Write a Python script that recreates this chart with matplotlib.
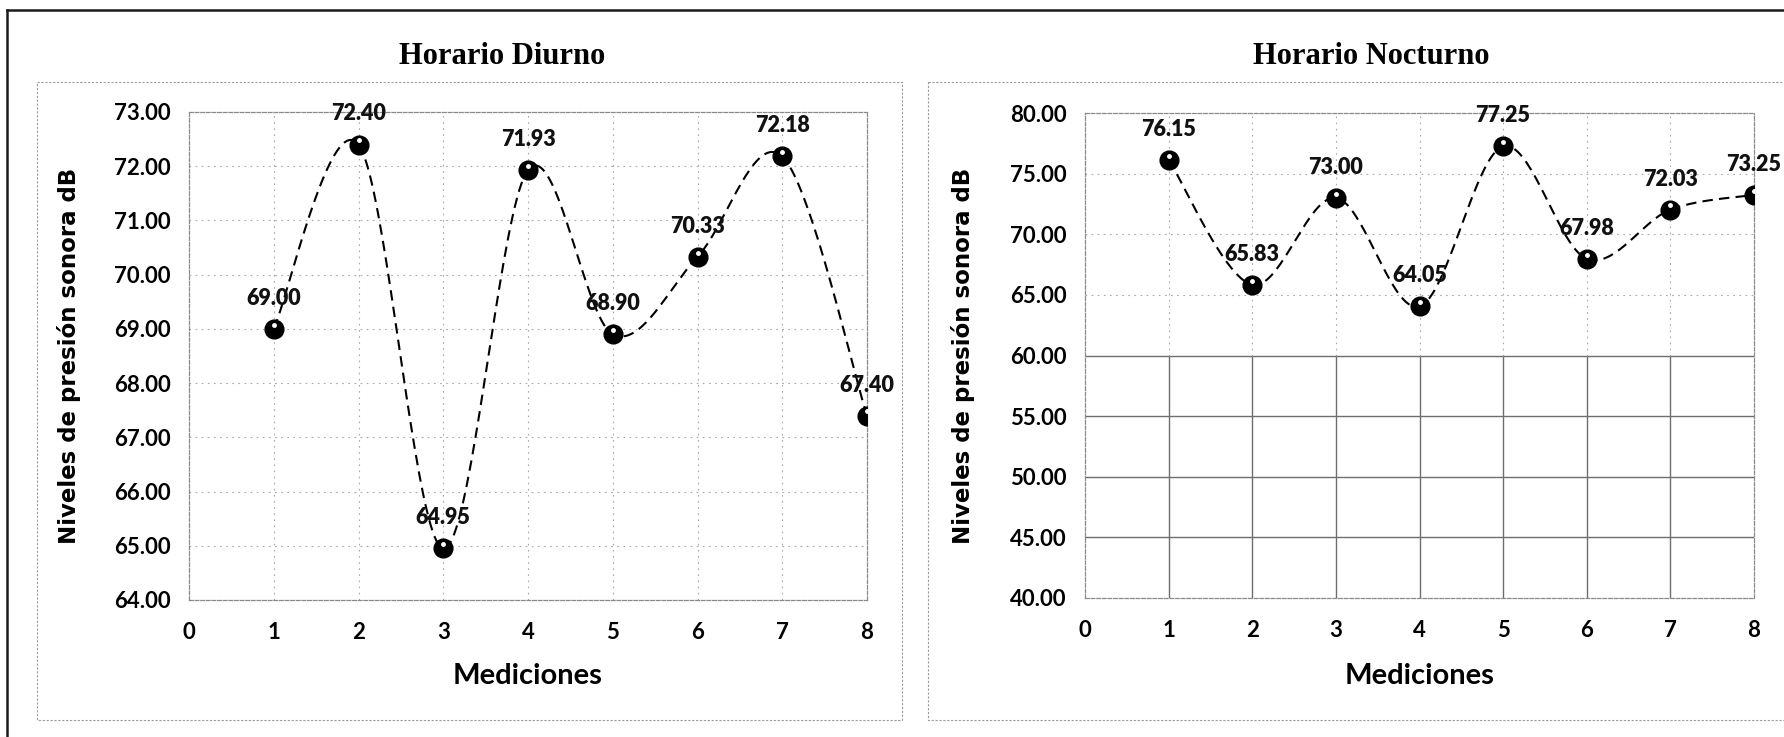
import matplotlib.pyplot as plt
import matplotlib.transforms as mtransforms
from matplotlib.lines import Line2D
import numpy as np

# Niveles de presión sonora por medición (dB)
mediciones = [1, 2, 3, 4, 5, 6, 7, 8]
diurno = [69.00, 72.40, 64.95, 71.93, 68.90, 70.33, 72.18, 67.40]
nocturno = [76.15, 65.83, 73.00, 64.05, 77.25, 67.98, 72.03, 73.25]

x_ticks = [0, 1, 2, 3, 4, 5, 6, 7, 8]
diurno_yticks = [64, 65, 66, 67, 68, 69, 70, 71, 72, 73]
nocturno_yticks = [40, 45, 50, 55, 60, 65, 70, 75, 80]

LABEL_FONT = "Lato"
TITLE_FONT = "Liberation Serif"
YLABEL_FONT = "DejaVu Sans"


def suavizar(x, y, n=40):
    # línea suavizada estilo Excel: Bezier cúbica con control Catmull-Rom
    pts = np.column_stack([x, y]).astype(float)
    pad = np.vstack([pts[0], pts, pts[-1]])
    t = np.linspace(0, 1, n)[:, None]
    out = []
    for i in range(len(pts) - 1):
        p0, p3 = pts[i], pts[i + 1]
        c1 = p0 + (p3 - pad[i]) / 6
        c2 = p3 - (pad[i + 3] - p0) / 6
        seg = ((1 - t) ** 3) * p0 + 3 * ((1 - t) ** 2) * t * c1 \
            + 3 * (1 - t) * t ** 2 * c2 + t ** 3 * p3
        out.append(seg if i == 0 else seg[1:])
    out = np.vstack(out)
    return out[:, 0], out[:, 1]


def panel(fig, ax, y, yticks, titulo, titulo_x, solido_hasta=None):
    ax.set_xlim(x_ticks[0], x_ticks[-1])
    ax.set_ylim(yticks[0], yticks[-1])
    ax.set_xticks(x_ticks)
    ax.set_yticks(yticks)
    ax.set_yticklabels([f"{v:.2f}" for v in yticks])
    ax.tick_params(axis="both", length=0, labelsize=16)
    ax.tick_params(axis="x", pad=16)
    ax.tick_params(axis="y", pad=13)
    for lab in ax.get_xticklabels() + ax.get_yticklabels():
        lab.set_fontfamily(LABEL_FONT)
        lab.set_fontweight("bold")

    for s in ax.spines.values():
        s.set_color("#8a8a8a")
        s.set_linewidth(0.9)
        s.set_linestyle((0, (3, 1.5)))

    # rejilla: punteada tenue, sólida por debajo del umbral si se indica
    punteada = dict(color="#a8a8a8", lw=0.8, linestyle=(0, (1.5, 4)), zorder=0)
    solida = dict(color="#6e6e6e", lw=1.0, linestyle="-", zorder=0)
    for v in yticks[1:-1]:
        estilo = solida if solido_hasta is not None and v <= solido_hasta else punteada
        ax.axhline(v, **estilo)
    for v in x_ticks[1:-1]:
        if solido_hasta is not None:
            ax.plot([v, v], [yticks[0], solido_hasta], **solida)
            ax.plot([v, v], [solido_hasta, yticks[-1]], **punteada)
        else:
            ax.axvline(v, **punteada)

    xs, ys = suavizar(mediciones, y)
    ax.plot(xs, ys, color="black", lw=1.5, dashes=(5, 3), zorder=3)
    ax.plot(mediciones, y, "o", color="black", markersize=13.5, zorder=4)
    brillo = ax.transData + mtransforms.ScaledTranslation(0, 3 / 72, fig.dpi_scale_trans)
    ax.plot(mediciones, y, "o", color="white", markersize=2.5, zorder=5,
            transform=brillo)

    for xi, yi in zip(mediciones, y):
        ax.annotate(f"{yi:.2f}", (xi, yi), xytext=(0, 22),
                    textcoords="offset points", ha="center", va="center",
                    fontsize=15.5, fontweight="heavy", family=LABEL_FONT,
                    color="#111111", zorder=6, annotation_clip=False)

    ax.set_xlabel("Mediciones", fontsize=21, fontweight="bold", family=LABEL_FONT)
    ax.xaxis.set_label_coords(0.5, -0.13)
    ax.set_ylabel("Niveles de presión sonora dB", fontsize=16.5,
                  fontweight="bold", family=YLABEL_FONT)
    ax.yaxis.set_label_coords(-0.16, 0.5)

    fig.text(titulo_x, 1 - 57 / 737, titulo, ha="center", va="center",
             fontsize=22, fontweight="bold", family=TITLE_FONT)


W, H = 1784, 737
fig = plt.figure(figsize=(W / 100, H / 100), dpi=100)

# marco exterior y recuadros de cada gráfico
fig.add_artist(Line2D([7 / W, 1], [1 - 10 / H] * 2, color="#1a1a1a", lw=1.8))
fig.add_artist(Line2D([7 / W, 7 / W], [0, 1 - 10 / H], color="#1a1a1a", lw=1.8))
for x0, x1 in [(37, 902), (928, 1790)]:
    bx = [x0 / W, x1 / W, x1 / W, x0 / W, x0 / W]
    by = [1 - 82 / H, 1 - 82 / H, 1 - 720 / H, 1 - 720 / H, 1 - 82 / H]
    fig.add_artist(Line2D(bx, by, color="#9a9a9a", lw=0.8,
                          linestyle=(0, (2, 1.5))))

ax1 = fig.add_axes([189 / W, 1 - 600 / H, 678 / W, 488 / H])
ax2 = fig.add_axes([1085 / W, 1 - 598 / H, 669 / W, 485 / H])

panel(fig, ax1, diurno, diurno_yticks, "Horario Diurno", 502 / W)
panel(fig, ax2, nocturno, nocturno_yticks, "Horario Nocturno", 1371 / W,
      solido_hasta=60)
ax2.yaxis.set_label_coords(-0.165, 0.5)
ax2.xaxis.set_label_coords(0.5, -0.135)

fig.savefig("out.png", dpi=100)
